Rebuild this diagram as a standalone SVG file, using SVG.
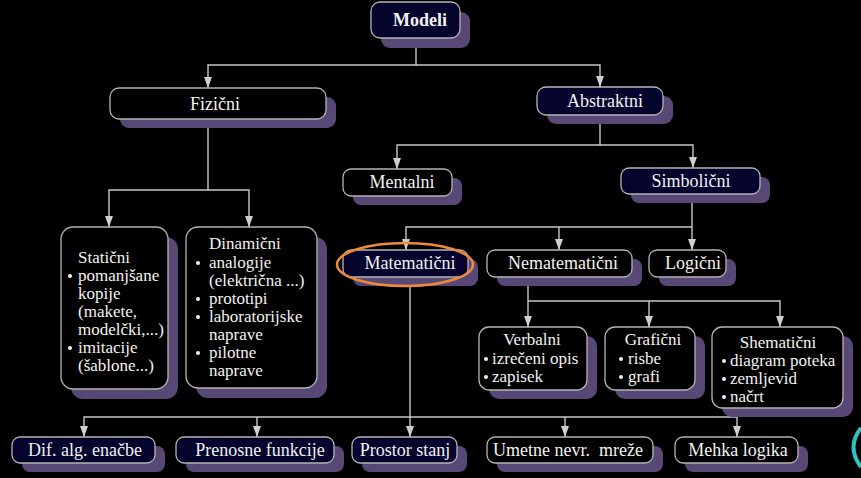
<svg xmlns="http://www.w3.org/2000/svg" width="861" height="478" viewBox="0 0 861 478">
<defs>
<marker id="arr" viewBox="0 0 11 8" refX="11" refY="4" markerWidth="11" markerHeight="8" markerUnits="userSpaceOnUse" orient="auto">
<path d="M0,0 L11,4 L0,8 z" fill="#cfcfcf"/>
</marker>
<style>
.sh{fill:#574876}
.bx{stroke:#b4b4b4;stroke-width:1.3}
.nv{fill:#04042c}
.bk{fill:#000}
text{font-family:'Liberation Serif','DejaVu Serif',serif;font-size:18px;fill:#f2f2f2}
.l{font-size:17px}
.c{text-anchor:middle}
.b{font-weight:bold}
.cn{fill:none;stroke:#c8c8c8;stroke-width:1.4}
.d{fill:#f2f2f2}
</style>
</defs>
<rect width="861" height="478" fill="#000"/>

<g id="connectors">
<path class="cn" d="M416 38 V65 H208 V88" marker-end="url(#arr)"/>
<path class="cn" d="M416 65 H600 V87" marker-end="url(#arr)"/>
<path class="cn" d="M208 119 V190 H109 V227" marker-end="url(#arr)"/>
<path class="cn" d="M208 190 H249 V227" marker-end="url(#arr)"/>
<path class="cn" d="M600 115 V145 H397 V169" marker-end="url(#arr)"/>
<path class="cn" d="M600 145 H693 V168" marker-end="url(#arr)"/>
<path class="cn" d="M692 194 V227 H406 V250" marker-end="url(#arr)"/>
<path class="cn" d="M559 227 V250" marker-end="url(#arr)"/>
<path class="cn" d="M692 227 V250" marker-end="url(#arr)"/>
<path class="cn" d="M528 277 V327" marker-end="url(#arr)"/>
<path class="cn" d="M528 301 H780 V327" marker-end="url(#arr)"/>
<path class="cn" d="M649 301 V327" marker-end="url(#arr)"/>
<path class="cn" d="M410 277 V437" marker-end="url(#arr)"/>
<path class="cn" d="M410 417 H84 V437" marker-end="url(#arr)"/>
<path class="cn" d="M257 417 V437" marker-end="url(#arr)"/>
<path class="cn" d="M410 417 H737 V437" marker-end="url(#arr)"/>
<path class="cn" d="M565 417 V437" marker-end="url(#arr)"/>
</g>

<g id="modeli">
<rect class="sh" x="381" y="12" width="89" height="36" rx="9"/>
<rect class="bx nv" x="371" y="2" width="89" height="36" rx="9"/>
<text class="c b" x="420" y="26" font-family="Liberation Serif">Modeli</text>
</g>

<g id="fizicni">
<rect class="sh" x="120" y="97" width="216" height="31" rx="9"/>
<rect class="bx bk" x="110" y="88" width="216" height="31" rx="9"/>
<text class="c" x="215" y="110" font-family="Liberation Serif">Fizični</text>
</g>

<g id="abstraktni">
<rect class="sh" x="547" y="96" width="126" height="28" rx="9"/>
<rect class="bx nv" x="537" y="87" width="126" height="28" rx="9"/>
<text class="c" x="605" y="107" font-family="Liberation Serif">Abstraktni</text>
</g>

<g id="mentalni">
<rect class="sh" x="353" y="178" width="109" height="27" rx="8"/>
<rect class="bx bk" x="343" y="169" width="109" height="27" rx="8"/>
<text class="c" x="402" y="188" font-family="Liberation Serif">Mentalni</text>
</g>

<g id="simbolicni">
<rect class="sh" x="631" y="177" width="139" height="26" rx="8"/>
<rect class="bx nv" x="621" y="168" width="139" height="26" rx="8"/>
<text class="c" x="691" y="187" font-family="Liberation Serif">Simbolični</text>
</g>

<g id="staticni" font-family="Liberation Serif">
<rect class="sh" x="71" y="237" width="107" height="162" rx="12"/>
<rect class="bx bk" x="61" y="227" width="107" height="162" rx="12"/>
<text class="l" x="78" y="263">Statični</text>
<circle class="d" cx="70" cy="276" r="2"/>
<text class="l" x="78" y="281">pomanjšane</text>
<text class="l" x="78" y="299">kopije</text>
<text class="l" x="78" y="317">(makete,</text>
<text class="l" x="78" y="335">modelčki,...)</text>
<circle class="d" cx="70" cy="348" r="2"/>
<text class="l" x="78" y="353">imitacije</text>
<text class="l" x="78" y="371">(šablone...)</text>
</g>

<g id="dinamicni" font-family="Liberation Serif">
<rect class="sh" x="196" y="237" width="131" height="161" rx="12"/>
<rect class="bx bk" x="186" y="227" width="131" height="161" rx="12"/>
<text class="l" x="209" y="249">Dinamični</text>
<circle class="d" cx="198" cy="263" r="2"/>
<text class="l" x="209" y="268">analogije</text>
<text class="l" x="209" y="286">(električna ...)</text>
<circle class="d" cx="198" cy="299" r="2"/>
<text class="l" x="209" y="304">prototipi</text>
<circle class="d" cx="198" cy="317" r="2"/>
<text class="l" x="209" y="322">laboratorijske</text>
<text class="l" x="209" y="340">naprave</text>
<circle class="d" cx="198" cy="353" r="2"/>
<text class="l" x="209" y="358">pilotne</text>
<text class="l" x="209" y="376">naprave</text>
</g>

<g id="matematicni">
<rect class="sh" x="353" y="259" width="125" height="27" rx="8"/>
<rect class="bx nv" x="343" y="250" width="125" height="27" rx="8"/>
<text class="c" x="410" y="269" font-family="Liberation Serif">Matematični</text>
</g>

<g id="nematematicni">
<rect class="sh" x="497" y="259" width="145" height="27" rx="8"/>
<rect class="bx bk" x="487" y="250" width="145" height="27" rx="8"/>
<text class="c" x="563" y="269" font-family="Liberation Serif">Nematematični</text>
</g>

<g id="logicni">
<rect class="sh" x="659" y="259" width="77" height="27" rx="8"/>
<rect class="bx bk" x="649" y="250" width="77" height="27" rx="8"/>
<text class="c" x="693" y="269" font-family="Liberation Serif">Logični</text>
</g>

<g id="verbalni" font-family="Liberation Serif">
<rect class="sh" x="489" y="336" width="108" height="63" rx="10"/>
<rect class="bx bk" x="479" y="327" width="108" height="63" rx="10"/>
<text class="l c" x="532" y="345">Verbalni</text>
<circle class="d" cx="486" cy="359" r="2"/>
<text class="l" x="492" y="364">izrečeni opis</text>
<circle class="d" cx="486" cy="377" r="2"/>
<text class="l" x="492" y="382">zapisek</text>
</g>

<g id="graficni" font-family="Liberation Serif">
<rect class="sh" x="615" y="336" width="90" height="63" rx="10"/>
<rect class="bx bk" x="605" y="327" width="90" height="63" rx="10"/>
<text class="l c" x="653" y="345">Grafični</text>
<circle class="d" cx="621" cy="359" r="2"/>
<text class="l" x="628" y="364">risbe</text>
<circle class="d" cx="621" cy="377" r="2"/>
<text class="l" x="628" y="382">grafi</text>
</g>

<g id="shematicni" font-family="Liberation Serif">
<rect class="sh" x="722" y="336" width="131" height="81" rx="10"/>
<rect class="bx bk" x="712" y="327" width="131" height="81" rx="10"/>
<text class="l c" x="778" y="348">Shematični</text>
<circle class="d" cx="724" cy="361" r="2"/>
<text class="l" x="730" y="366">diagram poteka</text>
<circle class="d" cx="724" cy="379" r="2"/>
<text class="l" x="730" y="384">zemljevid</text>
<circle class="d" cx="724" cy="397" r="2"/>
<text class="l" x="730" y="402">načrt</text>
</g>

<g id="dif">
<rect class="sh" x="22" y="446" width="143" height="26" rx="8"/>
<rect class="bx nv" x="12" y="437" width="143" height="26" rx="8"/>
<text class="c" x="85" y="456" font-family="Liberation Serif">Dif. alg. enačbe</text>
</g>

<g id="prenosne">
<rect class="sh" x="186" y="446" width="158" height="26" rx="8"/>
<rect class="bx nv" x="176" y="437" width="158" height="26" rx="8"/>
<text class="c" x="260" y="456" font-family="Liberation Serif">Prenosne funkcije</text>
</g>

<g id="prostor">
<rect class="sh" x="362" y="446" width="105" height="26" rx="8"/>
<rect class="bx nv" x="352" y="437" width="105" height="26" rx="8"/>
<text class="c" x="405" y="456" font-family="Liberation Serif">Prostor stanj</text>
</g>

<g id="umetne">
<rect class="sh" x="497" y="446" width="166" height="26" rx="8"/>
<rect class="bx bk" x="487" y="437" width="166" height="26" rx="8"/>
<text class="c" x="568" y="456" font-family="Liberation Serif" xml:space="preserve">Umetne nevr.  mreže</text>
</g>

<g id="mehka">
<rect class="sh" x="685" y="446" width="123" height="26" rx="8"/>
<rect class="bx bk" x="675" y="437" width="123" height="26" rx="8"/>
<text class="c" x="738" y="456" font-family="Liberation Serif">Mehka logika</text>
</g>

<g id="highlight">
<ellipse cx="405" cy="264.5" rx="68" ry="21.5" fill="none" stroke="#f0893a" stroke-width="2.5"/>
</g>

<path d="M861 428 Q846 447 861 467" fill="none" stroke="#2ec4c0" stroke-width="4"/>
</svg>
